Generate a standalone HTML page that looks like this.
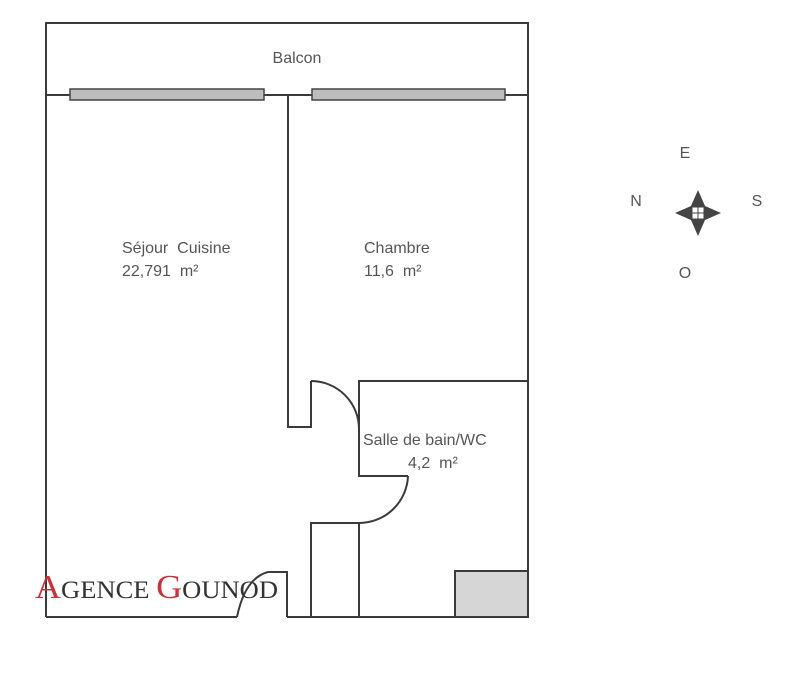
<!DOCTYPE html>
<html><head><meta charset="utf-8"><style>
html,body{margin:0;padding:0;background:#fff;}
svg{display:block;}
</style></head><body>
<svg width="803" height="681" viewBox="0 0 803 681" xmlns="http://www.w3.org/2000/svg">
<rect width="803" height="681" fill="#fff"/>
<g fill="none" stroke="#3a3a3a" stroke-width="2">
  <path d="M46,617 L46,23 L528,23 L528,617"/>
  <line x1="46" y1="95" x2="528" y2="95"/>
  <path d="M288,95 L288,427 L311,427 L311,381"/>
  <path d="M311,381 A48,48 0 0 1 359,429"/>
  <path d="M528,381 L359,381 L359,476 L408,476"/>
  <path d="M408,476 A49,49 0 0 1 359,523"/>
  <path d="M311,617 L311,523 L359,523 L359,617"/>
  <path d="M287,617 L287,572 L268,572 Q245,578 237,617"/>
  <line x1="46" y1="617" x2="237" y2="617"/>
  <line x1="287" y1="617" x2="528" y2="617"/>
</g>
<rect x="70" y="89" width="194" height="11" fill="#bdbdbd" stroke="#444" stroke-width="1.5"/>
<rect x="312" y="89" width="193" height="11" fill="#bdbdbd" stroke="#444" stroke-width="1.5"/>
<rect x="455" y="571" width="73" height="46" fill="#d6d6d6" stroke="#3a3a3a" stroke-width="2"/>
<g font-family="Liberation Sans, sans-serif" font-size="16" fill="#555">
  <text x="297" y="63" text-anchor="middle">Balcon</text>
  <text x="122" y="253">Séjour &#160;Cuisine</text>
  <text x="122" y="276">22,791 &#160;m²</text>
  <text x="364" y="253">Chambre</text>
  <text x="364" y="276">11,6 &#160;m²</text>
  <text x="363" y="445">Salle de bain/WC</text>
  <text x="408" y="468">4,2 &#160;m²</text>
  <text x="685" y="158" text-anchor="middle">E</text>
  <text x="636" y="206" text-anchor="middle">N</text>
  <text x="757" y="206" text-anchor="middle">S</text>
  <text x="685" y="278" text-anchor="middle">O</text>
</g>
<g>
  <path d="M698,190 L705,206 L721,213 L705,220 L698,236 L691,220 L675,213 L691,206 Z" fill="#444"/>
  <rect x="691" y="206" width="14" height="14" fill="#444"/>
  <rect x="692.5" y="207.5" width="5" height="5" fill="#fff"/>
  <rect x="698.5" y="207.5" width="5" height="5" fill="#fff"/>
  <rect x="692.5" y="213.5" width="5" height="5" fill="#fff"/>
  <rect x="698.5" y="213.5" width="5" height="5" fill="#fff"/>
</g>
<text x="35" y="598" font-family="Liberation Serif, serif" font-size="25" fill="#333" textLength="243" lengthAdjust="spacingAndGlyphs"><tspan fill="#c8323a" font-size="34">A</tspan>GENCE <tspan fill="#c8323a" font-size="34">G</tspan>OUNOD</text>
</svg>
</body></html>
